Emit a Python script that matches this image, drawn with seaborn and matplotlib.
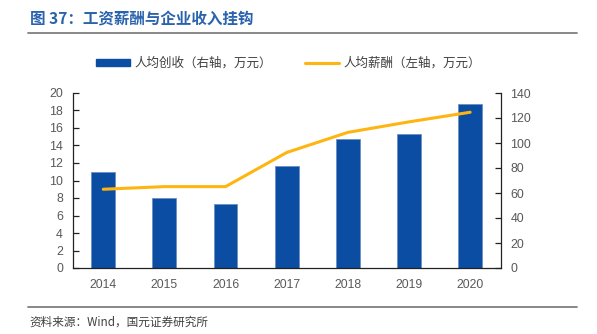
import numpy as np
import matplotlib
matplotlib.use("Agg")
import matplotlib.pyplot as plt
import seaborn as sns
from matplotlib.patches import Patch
from matplotlib.lines import Line2D

years = ["2014", "2015", "2016", "2017", "2018", "2019", "2020"]
revenue_per_capita = [77, 56, 51, 82, 103.5, 107, 131]     # right axis, 万元
salary_per_capita = [9.0, 9.3, 9.3, 13.2, 15.5, 16.7, 17.8]  # left axis, 万元
left_ticks = [0, 2, 4, 6, 8, 10, 12, 14, 16, 18, 20]
right_ticks = [0, 20, 40, 60, 80, 100, 120, 140]
bar_label = "人均创收（右轴，万元）"
line_label = "人均薪酬（左轴，万元）"
title = "图 37：工资薪酬与企业收入挂钩"
source = "资料来源：Wind，国元证券研究所"

bar_color = "#0A4DA2"
line_color = "#FFB511"
tick_color = "#595959"
cjk = ["Noto Sans CJK SC", "DejaVu Sans"]

sns.set_theme(style="white")
plt.rcParams["font.family"] = ["Liberation Sans", "Noto Sans CJK SC", "DejaVu Sans"]

W, H = 597, 334
fig = plt.figure(figsize=(W / 100, H / 100), dpi=100)

ax_l, ax_r, ax_t, ax_b = 72.7, 500.7, 93, 268
ax = fig.add_axes([ax_l / W, 1 - ax_b / H, (ax_r - ax_l) / W, (ax_b - ax_t) / H])
ax2 = ax.twinx()

# bars (right-axis scale) on primary axes
sns.barplot(x=years, y=revenue_per_capita, ax=ax, color=bar_color,
            width=0.39, saturation=1, edgecolor="#6C8FC4", linewidth=0.6)
ax.set_ylim(0, 140)
ax.set_xlim(-0.5, len(years) - 0.5)
ax.set_yticks(right_ticks)

# line (left-axis scale) on twin axes
sns.lineplot(x=np.arange(len(years)), y=salary_per_capita, ax=ax2,
             color=line_color, linewidth=2.2)
ax2.set_ylim(0, 20)
ax2.set_yticks(left_ticks)
ax2.set_xlim(-0.5, len(years) - 0.5)

ax.yaxis.tick_right()
ax2.yaxis.tick_left()

for a in (ax, ax2):
    a.set_xlabel("")
    a.set_ylabel("")
    a.tick_params(axis="y", direction="in", length=4, width=0.9, color="#222222",
                  labelcolor=tick_color, labelsize=8.9, pad=7)
    a.tick_params(axis="x", length=0, labelcolor=tick_color, labelsize=8.8, pad=8)
    for s in a.spines.values():
        s.set_visible(False)
    a.grid(False)

ax.set_xticks(range(len(years)))
ax.set_xticklabels(years)
for k in ("left", "right", "bottom"):
    ax2.spines[k].set_visible(True)
    ax2.spines[k].set_color("#222222")
    ax2.spines[k].set_linewidth(0.9)
ax2.spines["top"].set_visible(False)
ax.spines["top"].set_visible(False)
ax.patch.set_visible(False)

# legend
handles = [Patch(facecolor=bar_color, edgecolor=bar_color),
           Line2D([0], [0], color=line_color, lw=2.2)]
leg = fig.legend(handles, [bar_label, line_label], loc="center",
                 bbox_to_anchor=(288.5 / W, 1 - 63 / H), ncol=2, frameon=False,
                 handlelength=2.7, handleheight=0.5, handletextpad=0.4,
                 columnspacing=2.6, prop={"family": cjk, "size": 9})
for t in leg.get_texts():
    t.set_color("#404040")

# title and rules
fig.text(30 / W, 1 - 19 / H, title, family=cjk, fontsize=11.2, fontweight="bold",
         color="#2A63AD", va="center", ha="left")
fig.add_artist(Line2D([28 / W, 577 / W], [1 - 32.7 / H] * 2, color="#7F7F7F", lw=1.3))
fig.add_artist(Line2D([28 / W, 577 / W], [1 - 306.7 / H] * 2, color="#7F7F7F", lw=1.3))
fig.text(29 / W, 1 - 322 / H, source, family=cjk, fontsize=8.4, color="#404040",
         va="center", ha="left")

fig.savefig("out.png", dpi=100)
